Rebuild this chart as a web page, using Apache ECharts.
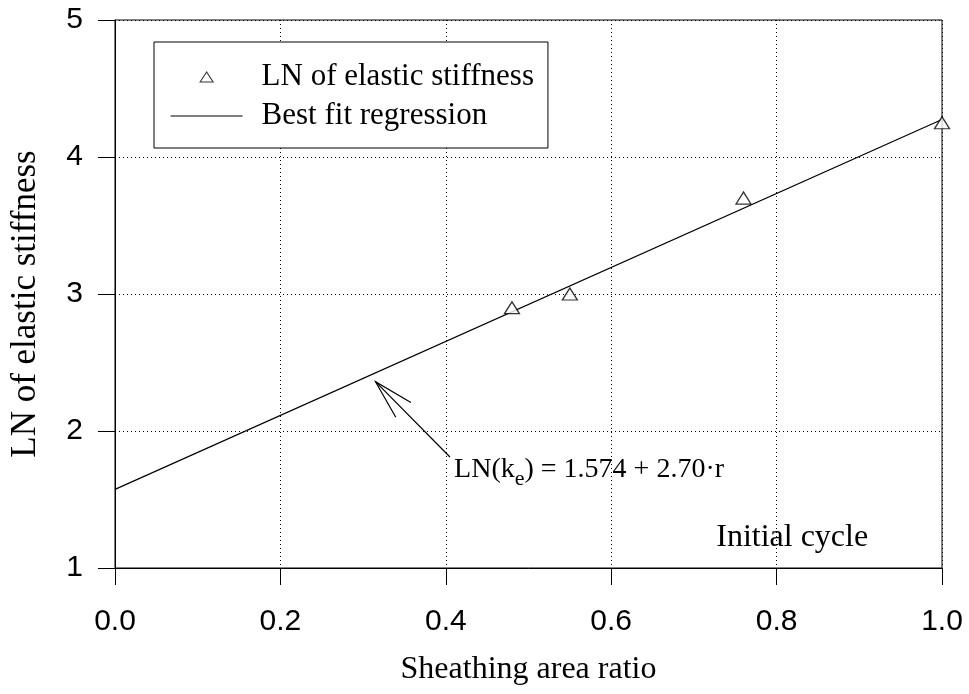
<!DOCTYPE html>
<html>
<head>
<meta charset="utf-8">
<script src="https://cdn.jsdelivr.net/npm/echarts@6/dist/echarts.min.js"></script>
<style>
  html, body { margin: 0; padding: 0; background: #fff; }
  #chart { width: 969px; height: 694px; }
</style>
</head>
<body>
<div id="chart"></div>
<script>
// ---- data ----
const areaRatio = [0.48, 0.55, 0.76, 1.0];
const lnStiffness = [2.9, 3.0, 3.7, 4.25];
const fitX = [0.0, 1.0];
const fitY = [1.574, 4.274];
const seriesNames = ['LN of elastic stiffness', 'Best fit regression'];
const equationAnchor = [0.41, 1.72];   // data coords of equation text start
const arrowTip = [0.315, 2.36];        // data coords of arrow tip
const arrowTail = [0.405, 1.81];       // data coords of arrow tail
const cycleAnchor = [0.727, 1.225];    // data coords of "Initial cycle"

const SERIF = '"Liberation Serif", "Times New Roman", serif';
const SANS = '"Liberation Sans", Arial, sans-serif';

// legend icon: small triangle centred inside a wide (72x10) invisible box
const LEGEND_TRIANGLE = 'path://M0,0 M72,10 M29.5,10 L36,0 L42.5,10 Z';

const chart = echarts.init(document.getElementById('chart'), null, { renderer: 'canvas' });

const option = {
  backgroundColor: '#ffffff',
  animation: false,
  grid: {
    left: 112, right: 27, top: 20, bottom: 126,
    show: true, borderColor: '#000', borderWidth: 1, backgroundColor: 'transparent'
  },
  legend: {
    orient: 'vertical',
    left: 154, top: 42,
    padding: [18, 14, 15, 16],
    itemGap: 5,
    itemWidth: 72, itemHeight: 10,
    borderColor: '#000', borderWidth: 1,
    backgroundColor: '#fff',
    itemStyle: { borderWidth: 1 },
    textStyle: { fontFamily: SERIF, fontSize: 31, color: '#000', lineHeight: 34, padding: [0, 0, 0, 14] },
    data: [
      { name: seriesNames[0], icon: LEGEND_TRIANGLE,
        itemStyle: { color: '#fff', borderColor: '#000', borderWidth: 1.1 } },
      { name: seriesNames[1],
        itemStyle: { color: 'rgba(0,0,0,0)', borderColor: 'rgba(0,0,0,0)', borderWidth: 0, opacity: 0 },
        lineStyle: { color: '#000', width: 1.2, opacity: 1 } }
    ]
  },
  xAxis: {
    type: 'value', min: 0, max: 1, interval: 0.2,
    name: 'Sheathing area ratio', nameLocation: 'middle', nameGap: 86,
    nameTextStyle: { fontFamily: SERIF, fontSize: 32, color: '#000' },
    axisLine: { show: true, lineStyle: { color: '#000', width: 1 } },
    axisTick: { show: true, inside: false, length: 17, lineStyle: { color: '#000' } },
    axisLabel: {
      margin: 39, fontFamily: SANS, fontSize: 30, color: '#000',
      formatter: v => v.toFixed(1)
    },
    splitLine: { show: true, lineStyle: { color: '#000', type: [1, 3], width: 1 } }
  },
  yAxis: {
    type: 'value', min: 1, max: 5, interval: 1,
    name: 'LN of elastic stiffness', nameLocation: 'middle', nameGap: 72, nameRotate: 90,
    nameTextStyle: { fontFamily: SERIF, fontSize: 35, color: '#000', padding: [0, 20, 0, 0] },
    axisLine: { show: true, lineStyle: { color: '#000', width: 1 } },
    axisTick: { show: true, inside: false, length: 17, lineStyle: { color: '#000' } },
    axisLabel: { margin: 32, fontFamily: SANS, fontSize: 30, color: '#000' },
    splitLine: { show: true, lineStyle: { color: '#000', type: [1, 3], width: 1 } }
  },
  series: [
    {
      name: seriesNames[0],
      type: 'scatter',
      symbol: 'triangle',
      symbolSize: [15, 12],
      itemStyle: { color: '#fff', borderColor: '#000', borderWidth: 1.3 },
      data: areaRatio.map((x, i) => [x, lnStiffness[i]]),
      z: 3
    },
    {
      name: seriesNames[1],
      type: 'line',
      symbol: 'none',
      showSymbol: false,
      lineStyle: { color: '#000', width: 1.2 },
      itemStyle: { color: '#000' },
      data: fitX.map((x, i) => [x, fitY[i]]),
      z: 2
    }
  ]
};
chart.setOption(option);

function drawAnnotations() {
  const tip = chart.convertToPixel({ gridIndex: 0 }, arrowTip);
  const tail = chart.convertToPixel({ gridIndex: 0 }, arrowTail);
  const eq = chart.convertToPixel({ gridIndex: 0 }, equationAnchor);
  const cyc = chart.convertToPixel({ gridIndex: 0 }, cycleAnchor);
  const ang = Math.atan2(tail[1] - tip[1], tail[0] - tip[0]);
  const wing = 41, spread = 15 * Math.PI / 180;
  const w1 = [tip[0] + wing * Math.cos(ang + spread), tip[1] + wing * Math.sin(ang + spread)];
  const w2 = [tip[0] + wing * Math.cos(ang - spread), tip[1] + wing * Math.sin(ang - spread)];
  chart.setOption({
    graphic: [
      { type: 'line', shape: { x1: tail[0], y1: tail[1], x2: tip[0], y2: tip[1] },
        style: { stroke: '#000', lineWidth: 1.2 }, z: 10 },
      { type: 'polyline', shape: { points: [w1, tip, w2] },
        style: { stroke: '#000', lineWidth: 1.2, fill: null }, z: 10 },
      { type: 'text', x: eq[0], y: eq[1], z: 10,
        style: {
          text: '{m|LN(k}{s|e}{m|) = 1.574 + 2.70·r}',
          verticalAlign: 'middle', align: 'left',
          rich: {
            m: { fontFamily: SERIF, fontSize: 28, fill: '#000', lineHeight: 40, verticalAlign: 'middle' },
            s: { fontFamily: SERIF, fontSize: 22, fill: '#000', lineHeight: 40, padding: [20, 0, 0, 0], verticalAlign: 'middle' }
          }
        } },
      { type: 'text', x: cyc[0], y: cyc[1], z: 10,
        style: { text: 'Initial cycle', fontFamily: SERIF, fontSize: 32, fill: '#000',
                 verticalAlign: 'middle', align: 'left' } }
    ]
  });
}
drawAnnotations();
</script>
</body>
</html>
